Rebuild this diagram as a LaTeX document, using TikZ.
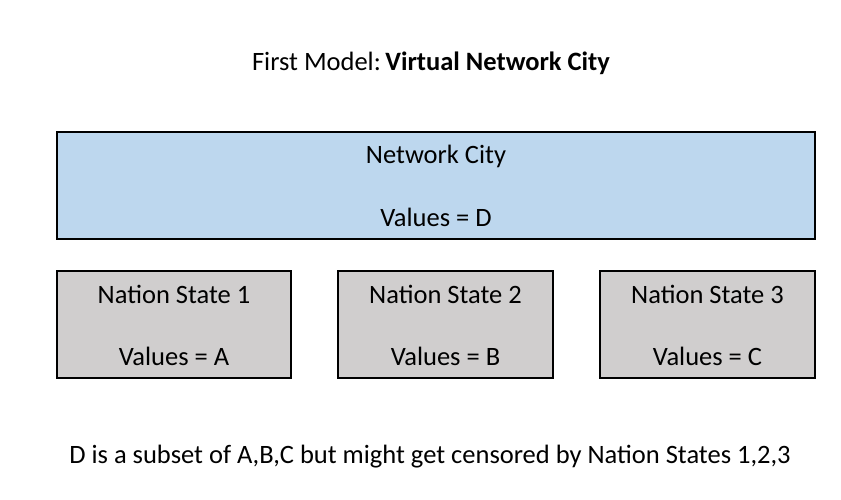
\documentclass[tikz,border=0pt]{standalone}
\usepackage{fontspec}
\setmainfont{Carlito}
\definecolor{cityblue}{HTML}{BDD7EE}
\definecolor{stategray}{HTML}{D0CECE}
\begin{document}
\begin{tikzpicture}[x=1pt,y=-1pt,
  box/.style={draw=black,line width=1.1pt},
  txt/.style={font=\fontsize{26.5}{30}\selectfont,inner sep=0pt,anchor=center}]
\useasboundingbox (0,0) rectangle (841,499);
\fill[white] (0,0) rectangle (841,499);
\node[txt] (title) at (431,63) {First Model:\,\textbf{Virtual Network City}};
\draw[box,fill=cityblue] (57,132) rectangle (815,239);
\coordinate (city) at (436,185);
\node[txt] (cityname) at (436,156) {Network City};
\node[txt] (cityval) at (436,217) {Values = D};
\draw[box,fill=stategray] (57,271) rectangle (291,378);
\node[txt] (ns1) at (174,294) {Nation State 1};
\node[txt] (v1) at (174,356) {Values = A};
\draw[box,fill=stategray] (338,271) rectangle (553,378);
\node[txt] (ns2) at (445.5,294) {Nation State 2};
\node[txt] (v2) at (445.5,356) {Values = B};
\draw[box,fill=stategray] (600,271) rectangle (815,378);
\node[txt] (ns3) at (707.5,294) {Nation State 3};
\node[txt] (v3) at (707.5,356) {Values = C};
\node[txt] (note) at (430,457) {D is a subset of A,B,C but might get censored by Nation States 1,2,3};
\end{tikzpicture}
\end{document}
